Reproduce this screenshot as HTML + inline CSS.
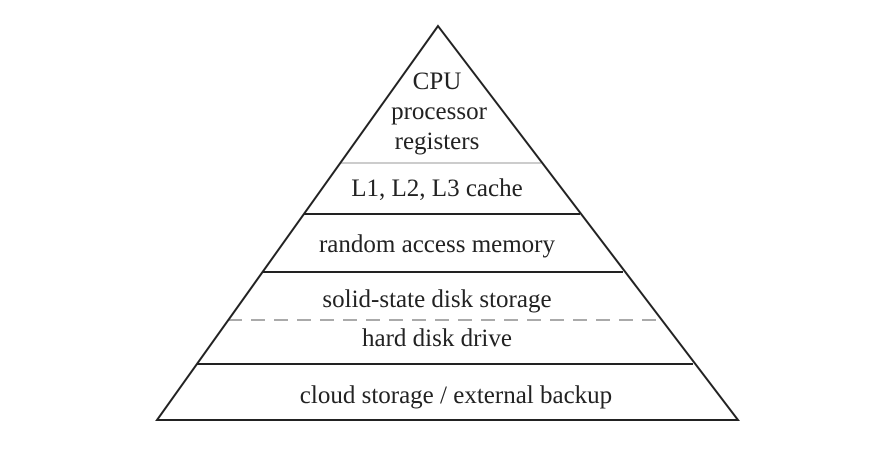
<!DOCTYPE html>
<html><head><style>
html,body{margin:0;padding:0;background:#fff;}
svg text{font-family:"Liberation Serif",serif;font-size:25px;fill:#222;text-anchor:middle;}
</style></head><body>
<svg width="882" height="445" viewBox="0 0 882 445" xmlns="http://www.w3.org/2000/svg">
<line x1="340" y1="163" x2="541" y2="163" stroke="#ccc" stroke-width="2"/>
<line x1="304" y1="214" x2="580" y2="214" stroke="#222" stroke-width="2"/>
<line x1="263" y1="272" x2="623" y2="272" stroke="#222" stroke-width="2"/>
<line x1="228" y1="320" x2="660" y2="320" stroke="#aaa" stroke-width="2" stroke-dasharray="14,9"/>
<line x1="197" y1="364" x2="693" y2="364" stroke="#222" stroke-width="2"/>
<polygon points="438,26 157,420 738,420" fill="none" stroke="#222" stroke-width="2"/>
<text x="437" y="89">CPU</text>
<text x="439" y="119">processor</text>
<text x="437" y="149">registers</text>
<text x="437" y="196">L1, L2, L3 cache</text>
<text x="437" y="252">random access memory</text>
<text x="437" y="307">solid-state disk storage</text>
<text x="437" y="346">hard disk drive</text>
<text x="456" y="403">cloud storage / external backup</text>
</svg>
</body></html>
